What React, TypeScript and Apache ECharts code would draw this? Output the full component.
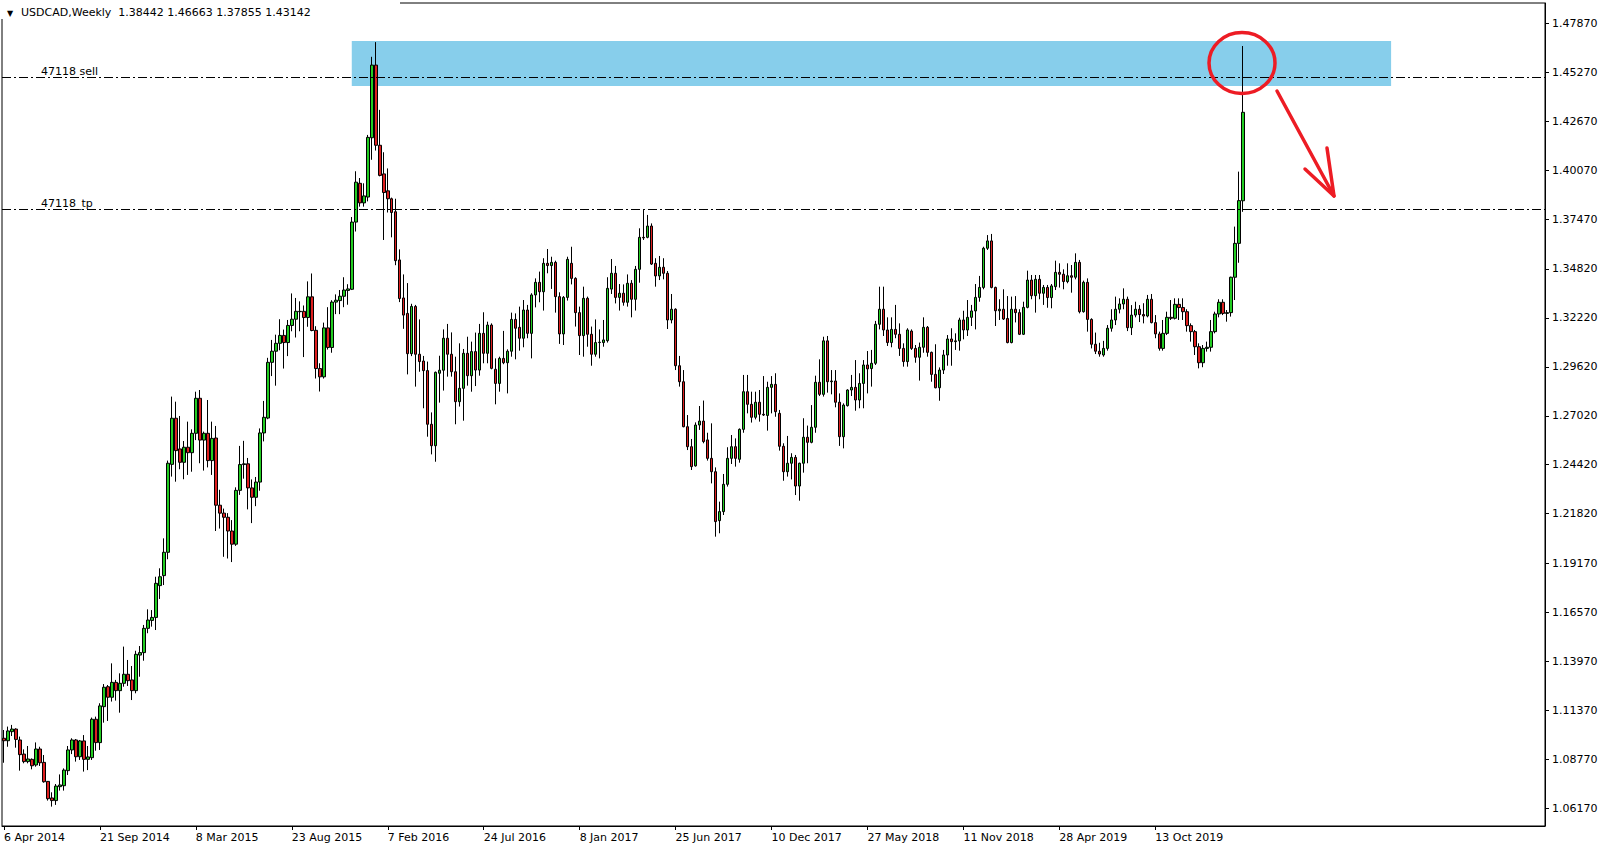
import React, { useEffect, useRef } from "react";
import * as echarts from "echarts";

const symbolTitle = "USDCAD,Weekly";
const xTickLabels = ["6 Apr 2014", "21 Sep 2014", "8 Mar 2015", "23 Aug 2015", "7 Feb 2016", "24 Jul 2016", "8 Jan 2017", "25 Jun 2017", "10 Dec 2017", "27 May 2018", "11 Nov 2018", "28 Apr 2019", "13 Oct 2019"];
const weeksPerLabel = 24;
const totalSlots = 386;
const yTicks = [1.0617, 1.0877, 1.1137, 1.1397, 1.1657, 1.1917, 1.2182, 1.2442, 1.2702, 1.2962, 1.3222, 1.3482, 1.3747, 1.4007, 1.4267, 1.4527, 1.4787];
const yMin = 1.0523;
const yMax = 1.48948;

const opens = [
  1.0989, 1.0976, 1.1024, 1.1038, 1.0980, 1.0905, 1.0865, 1.0877, 1.0847, 1.0932,
  1.0861, 1.0760, 1.0672, 1.0658, 1.0732, 1.0737, 1.0817, 1.0927, 1.0980, 1.0891,
  1.0975, 1.0877, 1.0886, 1.1090, 1.0966, 1.1157, 1.1263, 1.1207, 1.1286, 1.1242,
  1.1281, 1.1329, 1.1299, 1.1242, 1.1431, 1.1444, 1.1573, 1.1615, 1.1631, 1.1800,
  1.1853, 1.1977, 1.2444, 1.2689, 1.2526, 1.2455, 1.2535, 1.2506, 1.2609, 1.2795,
  1.2573, 1.2609, 1.2464, 1.2584, 1.2227, 1.2185, 1.2163, 1.2090, 1.2020, 1.2306,
  1.2443, 1.2447, 1.2319, 1.2269, 1.2350, 1.2611, 1.2690, 1.2986, 1.3045, 1.3087,
  1.3129, 1.3091, 1.3182, 1.3215, 1.3257, 1.3257, 1.3224, 1.3334, 1.3156, 1.2953,
  1.2909, 1.3169, 1.3065, 1.3306, 1.3314, 1.3337, 1.3368, 1.3374, 1.3731, 1.3937,
  1.3833, 1.3864, 1.4179, 1.4565, 1.4139, 1.3987, 1.3897, 1.3855, 1.3786, 1.3530,
  1.3328, 1.3246, 1.3032, 1.3283, 1.3029, 1.2993, 1.2942, 1.2657, 1.2543, 1.2928,
  1.2944, 1.3114, 1.3029, 1.2936, 1.2777, 1.2848, 1.3034, 1.2915, 1.3043, 1.2945,
  1.3140, 1.3034, 1.3184, 1.2949, 1.2874, 1.3007, 1.2984, 1.3045, 1.3214, 1.3172,
  1.3114, 1.3264, 1.3140, 1.3344, 1.3411, 1.3361, 1.3512, 1.3500, 1.3517, 1.3335,
  1.3137, 1.3331, 1.3512, 1.3432, 1.3250, 1.3128, 1.3326, 1.3135, 1.3029, 1.3091,
  1.3091, 1.3101, 1.3375, 1.3459, 1.3331, 1.3353, 1.3305, 1.3406, 1.3321, 1.3480,
  1.3650, 1.3650, 1.3710, 1.3512, 1.3445, 1.3491, 1.3459, 1.3211, 1.3268, 1.2968,
  1.2883, 1.2644, 1.2538, 1.2436, 1.2653, 1.2674, 1.2574, 1.2476, 1.2405, 1.2145,
  1.2193, 1.2338, 1.2476, 1.2538, 1.2471, 1.2630, 1.2830, 1.2763, 1.2694, 1.2774,
  1.2710, 1.2704, 1.2853, 1.2869, 1.2715, 1.2540, 1.2405, 1.2450, 1.2481, 1.2329,
  1.2450, 1.2588, 1.2561, 1.2641, 1.2880, 1.2816, 1.3100, 1.2883, 1.2887, 1.2774,
  1.2591, 1.2756, 1.2839, 1.2853, 1.2786, 1.2874, 1.2972, 1.2953, 1.2981, 1.3188,
  1.3268, 1.3158, 1.3091, 1.3161, 1.3135, 1.3060, 1.2990, 1.3152, 1.3060, 1.3013,
  1.3066, 1.3172, 1.3039, 1.2922, 1.2851, 1.2945, 1.3025, 1.3110, 1.3096, 1.3100,
  1.3211, 1.3158, 1.3225, 1.3259, 1.3331, 1.3384, 1.3592, 1.3631, 1.3384, 1.3260,
  1.3268, 1.3219, 1.3091, 1.3268, 1.3250, 1.3135, 1.3278, 1.3423, 1.3340, 1.3427,
  1.3353, 1.3384, 1.3330, 1.3388, 1.3464, 1.3454, 1.3415, 1.3446, 1.3438, 1.3517,
  1.3255, 1.3411, 1.3214, 1.3082, 1.3045, 1.3025, 1.3060, 1.3167, 1.3211, 1.3268,
  1.3296, 1.3321, 1.3170, 1.3237, 1.3268, 1.3240, 1.3232, 1.3321, 1.3197, 1.3137,
  1.3060, 1.3140, 1.3225, 1.3220, 1.3294, 1.3277, 1.3255, 1.3181, 1.3149, 1.3069,
  1.2984, 1.3060, 1.3066, 1.3149, 1.3243, 1.3305, 1.3246, 1.3250, 1.3438, 1.3618,
  1.38442
];
const highs = [
  1.1033, 1.1051, 1.1060, 1.1042, 1.0998, 1.0930, 1.0948, 1.0882, 1.0967, 1.0944,
  1.0900, 1.0762, 1.0702, 1.0746, 1.0797, 1.0829, 1.0948, 1.0989, 1.0985, 1.0980,
  1.1006, 1.0948, 1.1099, 1.1104, 1.1175, 1.1277, 1.1272, 1.1387, 1.1299, 1.1334,
  1.1476, 1.1405, 1.1373, 1.1454, 1.1479, 1.1591, 1.1674, 1.1670, 1.1847, 1.1892,
  1.2051, 1.2464, 1.2804, 1.2777, 1.2701, 1.2568, 1.2671, 1.2630, 1.2830, 1.2839,
  1.2618, 1.2786, 1.2671, 1.2648, 1.2309, 1.2209, 1.2185, 1.2148, 1.2322, 1.2542,
  1.2569, 1.2478, 1.2364, 1.2377, 1.2635, 1.2781, 1.3010, 1.3105, 1.3133, 1.3215,
  1.3160, 1.3211, 1.3352, 1.3328, 1.3310, 1.3288, 1.3416, 1.3458, 1.3178, 1.2981,
  1.3197, 1.3279, 1.3316, 1.3347, 1.3370, 1.3438, 1.3401, 1.3758, 1.4001, 1.3965,
  1.3937, 1.4194, 1.4609, 1.4687, 1.4327, 1.4102, 1.4016, 1.3861, 1.3855, 1.3586,
  1.3453, 1.3407, 1.3297, 1.3291, 1.3214, 1.3020, 1.2990, 1.2720, 1.2937, 1.3021,
  1.3161, 1.3190, 1.3145, 1.3016, 1.3087, 1.3057, 1.3122, 1.3096, 1.3144, 1.3190,
  1.3252, 1.3202, 1.3193, 1.3007, 1.3016, 1.3153, 1.3055, 1.3250, 1.3246, 1.3282,
  1.3317, 1.3291, 1.3353, 1.3432, 1.3468, 1.3539, 1.3588, 1.3547, 1.3526, 1.3358,
  1.3338, 1.3547, 1.3600, 1.3438, 1.3282, 1.3388, 1.3335, 1.3176, 1.3214, 1.3161,
  1.3211, 1.3438, 1.3535, 1.3498, 1.3402, 1.3400, 1.3453, 1.3423, 1.3498, 1.3698,
  1.3795, 1.3769, 1.3724, 1.3539, 1.3551, 1.3539, 1.3471, 1.3349, 1.3273, 1.3020,
  1.2945, 1.2706, 1.2579, 1.2667, 1.2754, 1.2783, 1.2612, 1.2662, 1.2428, 1.2246,
  1.2393, 1.2535, 1.2600, 1.2582, 1.2635, 1.2919, 1.2919, 1.2830, 1.2830, 1.2839,
  1.2913, 1.2883, 1.2913, 1.2928, 1.2733, 1.2556, 1.2595, 1.2503, 1.2494, 1.2453,
  1.2689, 1.2650, 1.2759, 1.2915, 1.3002, 1.3122, 1.3126, 1.2945, 1.2945, 1.2821,
  1.2768, 1.2843, 1.2919, 1.2998, 1.2928, 1.2998, 1.3046, 1.3052, 1.3206, 1.3388,
  1.3388, 1.3225, 1.3225, 1.3291, 1.3193, 1.3087, 1.3167, 1.3161, 1.3078, 1.3091,
  1.3225, 1.3179, 1.3043, 1.3082, 1.2959, 1.3052, 1.3131, 1.3167, 1.3140, 1.3223,
  1.3260, 1.3317, 1.3291, 1.3402, 1.3445, 1.3600, 1.3662, 1.3668, 1.3388, 1.3321,
  1.3374, 1.3338, 1.3335, 1.3338, 1.3268, 1.3308, 1.3473, 1.3450, 1.3450, 1.3450,
  1.3397, 1.3397, 1.3402, 1.3526, 1.3512, 1.3480, 1.3512, 1.3503, 1.3565, 1.3530,
  1.3420, 1.3432, 1.3220, 1.3144, 1.3090, 1.3100, 1.3184, 1.3268, 1.3335, 1.3326,
  1.3379, 1.3335, 1.3290, 1.3308, 1.3290, 1.3300, 1.3344, 1.3349, 1.3237, 1.3149,
  1.3211, 1.3255, 1.3317, 1.3326, 1.3326, 1.3326, 1.3268, 1.3193, 1.3158, 1.3087,
  1.3078, 1.3096, 1.3211, 1.3255, 1.3321, 1.3321, 1.3264, 1.3441, 1.3707, 1.3999,
  1.46663
];
const lows = [
  1.0859, 1.0944, 1.1001, 1.0939, 1.0817, 1.0856, 1.0856, 1.0824, 1.0838, 1.0842,
  1.0753, 1.0658, 1.0626, 1.0635, 1.0711, 1.0711, 1.0794, 1.0905, 1.0865, 1.0874,
  1.0812, 1.0820, 1.0874, 1.0923, 1.0927, 1.1072, 1.1081, 1.1184, 1.1189, 1.1125,
  1.1263, 1.1267, 1.1192, 1.1228, 1.1316, 1.1401, 1.1547, 1.1582, 1.1564, 1.1729,
  1.1803, 1.1940, 1.2379, 1.2352, 1.2418, 1.2365, 1.2388, 1.2405, 1.2573, 1.2450,
  1.2411, 1.2428, 1.2388, 1.2090, 1.2103, 1.1953, 1.1944, 1.1925, 1.2011, 1.2282,
  1.2368, 1.2205, 1.2132, 1.2222, 1.2304, 1.2566, 1.2684, 1.2913, 1.2862, 1.3050,
  1.2953, 1.3019, 1.3151, 1.3118, 1.3151, 1.3014, 1.3175, 1.3151, 1.2900, 1.2831,
  1.2900, 1.3054, 1.3037, 1.3242, 1.3242, 1.3279, 1.3292, 1.3370, 1.3681, 1.3813,
  1.3813, 1.3841, 1.4062, 1.4111, 1.3974, 1.3636, 1.3782, 1.3650, 1.3502, 1.3306,
  1.3164, 1.2922, 1.3019, 1.2857, 1.2936, 1.2742, 1.2591, 1.2497, 1.2458, 1.2772,
  1.2836, 1.2910, 1.2910, 1.2657, 1.2751, 1.2676, 1.2862, 1.2830, 1.2860, 1.2915,
  1.2981, 1.2981, 1.2949, 1.2763, 1.2830, 1.2976, 1.2821, 1.3016, 1.3002, 1.3048,
  1.3066, 1.3114, 1.3007, 1.3278, 1.3305, 1.3261, 1.3459, 1.3376, 1.3250, 1.3084,
  1.3078, 1.3314, 1.3400, 1.3176, 1.3025, 1.3016, 1.3069, 1.2968, 1.3016, 1.3007,
  1.3069, 1.3091, 1.3349, 1.3299, 1.3261, 1.3287, 1.3282, 1.3225, 1.3261, 1.3409,
  1.3636, 1.3645, 1.3503, 1.3388, 1.3423, 1.3427, 1.3163, 1.3193, 1.2945, 1.2857,
  1.2641, 1.2520, 1.2414, 1.2432, 1.2627, 1.2556, 1.2464, 1.2343, 1.2060, 1.2078,
  1.2175, 1.2326, 1.2446, 1.2432, 1.2453, 1.2612, 1.2715, 1.2666, 1.2683, 1.2671,
  1.2701, 1.2623, 1.2715, 1.2697, 1.2517, 1.2357, 1.2379, 1.2364, 1.2281, 1.2251,
  1.2400, 1.2450, 1.2556, 1.2612, 1.2807, 1.2804, 1.2825, 1.2816, 1.2747, 1.2542,
  1.2529, 1.2751, 1.2807, 1.2729, 1.2742, 1.2742, 1.2821, 1.2857, 1.2972, 1.3161,
  1.3126, 1.3073, 1.3066, 1.3114, 1.3020, 1.2963, 1.2963, 1.3052, 1.2984, 1.2889,
  1.3037, 1.3016, 1.2883, 1.2848, 1.2782, 1.2924, 1.2968, 1.2968, 1.3052, 1.3048,
  1.3108, 1.3126, 1.3179, 1.3161, 1.3308, 1.3374, 1.3583, 1.3379, 1.3179, 1.3211,
  1.3211, 1.3087, 1.3087, 1.3198, 1.3131, 1.3131, 1.3273, 1.3321, 1.3250, 1.3321,
  1.3291, 1.3276, 1.3273, 1.3370, 1.3383, 1.3374, 1.3406, 1.3356, 1.3427, 1.3246,
  1.3250, 1.3149, 1.3060, 1.3030, 1.3016, 1.3016, 1.3048, 1.3149, 1.3184, 1.3246,
  1.3268, 1.3152, 1.3131, 1.3225, 1.3200, 1.3193, 1.3225, 1.3193, 1.3114, 1.3048,
  1.3048, 1.3131, 1.3211, 1.3214, 1.3211, 1.3211, 1.3149, 1.3096, 1.3025, 1.2954,
  1.2960, 1.3043, 1.3043, 1.3140, 1.3225, 1.3237, 1.3202, 1.3229, 1.3317, 1.3515,
  1.37855
];
const closes = [
  1.0976, 1.1028, 1.1038, 1.0983, 1.0902, 1.0865, 1.0879, 1.0843, 1.0932, 1.0859,
  1.0758, 1.0668, 1.0658, 1.0735, 1.0741, 1.0820, 1.0927, 1.0980, 1.0891, 1.0975,
  1.0877, 1.0890, 1.1090, 1.0966, 1.1161, 1.1260, 1.1207, 1.1286, 1.1242, 1.1281,
  1.1329, 1.1295, 1.1242, 1.1435, 1.1444, 1.1573, 1.1617, 1.1631, 1.1812, 1.1847,
  1.1977, 1.2450, 1.2689, 1.2517, 1.2455, 1.2535, 1.2506, 1.2609, 1.2795, 1.2573,
  1.2609, 1.2464, 1.2582, 1.2227, 1.2185, 1.2163, 1.2090, 1.2020, 1.2306, 1.2443,
  1.2447, 1.2319, 1.2269, 1.2350, 1.2611, 1.2694, 1.2986, 1.3045, 1.3087, 1.3129,
  1.3091, 1.3182, 1.3215, 1.3257, 1.3255, 1.3224, 1.3334, 1.3155, 1.2953, 1.2909,
  1.3169, 1.3065, 1.3306, 1.3316, 1.3337, 1.3370, 1.3376, 1.3731, 1.3943, 1.3833,
  1.3870, 1.4181, 1.4565, 1.4139, 1.3979, 1.3888, 1.3855, 1.3782, 1.3526, 1.3325,
  1.3237, 1.3032, 1.3283, 1.3029, 1.2990, 1.2942, 1.2657, 1.2543, 1.2933, 1.2944,
  1.3114, 1.3029, 1.2936, 1.2777, 1.2848, 1.3034, 1.2915, 1.3043, 1.2945, 1.3140,
  1.3034, 1.3184, 1.2954, 1.2874, 1.3007, 1.2984, 1.3045, 1.3214, 1.3167, 1.3114,
  1.3264, 1.3140, 1.3344, 1.3411, 1.3361, 1.3512, 1.3500, 1.3517, 1.3335, 1.3137,
  1.3331, 1.3533, 1.3432, 1.3250, 1.3128, 1.3326, 1.3135, 1.3029, 1.3091, 1.3093,
  1.3105, 1.3379, 1.3459, 1.3331, 1.3353, 1.3305, 1.3406, 1.3321, 1.3480, 1.3650,
  1.3647, 1.3710, 1.3508, 1.3445, 1.3491, 1.3459, 1.3211, 1.3268, 1.2968, 1.2883,
  1.2644, 1.2538, 1.2432, 1.2653, 1.2674, 1.2565, 1.2476, 1.2405, 1.2140, 1.2193,
  1.2338, 1.2476, 1.2538, 1.2476, 1.2630, 1.2830, 1.2763, 1.2694, 1.2774, 1.2710,
  1.2706, 1.2853, 1.2869, 1.2724, 1.2540, 1.2405, 1.2450, 1.2481, 1.2329, 1.2450,
  1.2588, 1.2561, 1.2641, 1.2880, 1.2816, 1.3100, 1.2883, 1.2887, 1.2774, 1.2591,
  1.2759, 1.2839, 1.2853, 1.2786, 1.2874, 1.2972, 1.2951, 1.2981, 1.3188, 1.3268,
  1.3158, 1.3091, 1.3161, 1.3135, 1.3060, 1.2990, 1.3158, 1.3060, 1.3013, 1.3066,
  1.3172, 1.3039, 1.2922, 1.2851, 1.2945, 1.3025, 1.3110, 1.3096, 1.3100, 1.3211,
  1.3158, 1.3225, 1.3259, 1.3331, 1.3384, 1.3592, 1.3631, 1.3384, 1.3260, 1.3268,
  1.3216, 1.3091, 1.3268, 1.3250, 1.3135, 1.3278, 1.3423, 1.3340, 1.3427, 1.3353,
  1.3384, 1.3330, 1.3392, 1.3464, 1.3454, 1.3415, 1.3446, 1.3438, 1.3517, 1.3255,
  1.3411, 1.3214, 1.3082, 1.3045, 1.3030, 1.3060, 1.3167, 1.3211, 1.3268, 1.3296,
  1.3321, 1.3170, 1.3237, 1.3268, 1.3240, 1.3232, 1.3321, 1.3197, 1.3137, 1.3060,
  1.3140, 1.3225, 1.3220, 1.3294, 1.3277, 1.3255, 1.3181, 1.3149, 1.3069, 1.2984,
  1.3060, 1.3066, 1.3149, 1.3243, 1.3305, 1.3246, 1.3250, 1.3438, 1.3618, 1.3845,
  1.43142
];

const sellLevel = 1.4497;
const tpLevel = 1.3818;
const sellLabel = "47118 sell";
const tpLabel = "47118_tp";
const zoneStartWeek = 87;
const zoneEndWeek = 347;
const zoneTop = 1.4693;
const zoneBottom = 1.4454;

const bullColor = "#22cc22";
const bearColor = "#dd1f1f";
const FONT = "DejaVu Sans";

export default function App() {
  const ref = useRef<HTMLDivElement>(null);
  useEffect(() => {
    if (!ref.current) return;
    const chart = echarts.init(ref.current, undefined, { renderer: "svg" });
    const categories = Array.from({ length: totalSlots }, (_, i) => String(i));
    const candles = opens.map((o, i) => [o, closes[i], lows[i], highs[i]]);
    const last = opens.length - 1;
    const lastClose = closes[last];
    const header =
      symbolTitle + "\u00a0\u00a0" +
      [opens[last], highs[last], lows[last], closes[last]].map((v) => v.toFixed(5)).join(" ");
    const showTick = (index: number) =>
      index % weeksPerLabel === 0 && index / weeksPerLabel < xTickLabels.length;
    const hlineLabel = (text: string) => ({
      show: true,
      position: "insideStartTop",
      formatter: text,
      color: "#000",
      fontFamily: FONT,
      fontSize: 11,
      distance: [39, 0],
    });

    chart.setOption({
      animation: false,
      backgroundColor: "#ffffff",
      grid: {
        left: 2,
        right: 64,
        top: 3,
        bottom: 24,
        show: true,
        borderColor: "#000",
        borderWidth: 1,
        backgroundColor: "transparent",
      },
      xAxis: {
        type: "category",
        data: categories,
        boundaryGap: true,
        axisLine: { show: true, lineStyle: { color: "#000", width: 1 } },
        axisTick: {
          show: true,
          alignWithLabel: true,
          interval: (index: number) => showTick(index),
          length: 4,
          lineStyle: { color: "#000" },
        },
        axisLabel: {
          show: true,
          interval: (index: number) => showTick(index),
          formatter: (_v: string, index: number) =>
            showTick(index) ? xTickLabels[index / weeksPerLabel] : "",
          align: "left",
          margin: 6,
          color: "#000",
          fontFamily: FONT,
          fontSize: 11,
        },
        splitLine: { show: false },
      },
      yAxis: {
        type: "value",
        position: "right",
        min: yMin,
        max: yMax,
        scale: true,
        axisLine: { show: true, lineStyle: { color: "#000", width: 1 } },
        axisTick: {
          show: true,
          inside: false,
          length: 4,
          customValues: yTicks,
          lineStyle: { color: "#000" },
        },
        axisLabel: {
          show: true,
          customValues: yTicks,
          formatter: (v: number) => v.toFixed(5),
          margin: 7,
          color: "#000",
          fontFamily: FONT,
          fontSize: 11,
        },
        splitLine: { show: false },
      },
      series: [
        {
          type: "candlestick",
          data: candles,
          barWidth: 3,
          itemStyle: {
            color: bullColor,
            color0: bearColor,
            borderColor: "#000",
            borderColor0: "#000",
            borderColorDoji: "#000",
            borderWidth: 1,
          },
          markArea: {
            silent: true,
            z: 1,
            itemStyle: { color: "#87ceeb", opacity: 1 },
            data: [[
              { xAxis: String(zoneStartWeek), yAxis: zoneTop },
              { xAxis: String(zoneEndWeek), yAxis: zoneBottom },
            ]],
          },
          markLine: {
            silent: true,
            symbol: ["none", "none"],
            animation: false,
            data: [
              {
                yAxis: sellLevel,
                lineStyle: { color: "#000", width: 1, type: [9, 3, 2, 3] },
                label: hlineLabel(sellLabel),
              },
              {
                yAxis: tpLevel,
                lineStyle: { color: "#000", width: 1, type: [9, 3, 2, 3] },
                label: hlineLabel(tpLabel),
              },
              {
                yAxis: lastClose,
                lineStyle: { opacity: 0, width: 0 },
                label: {
                  show: true,
                  position: "end",
                  distance: 2,
                  formatter: lastClose.toFixed(5),
                  color: "#fff",
                  backgroundColor: "#000",
                  padding: [0, 5, 0, 5],
                  lineHeight: 12,
                  fontFamily: FONT,
                  fontSize: 11,
                },
              },
            ],
          },
        },
      ],
      graphic: [
        {
          type: "rect",
          shape: { x: 0, y: 0, width: 400, height: 19 },
          style: { fill: "#fff" },
          z: 50,
        },
        {
          type: "text",
          left: 7,
          top: 9,
          z: 51,
          style: { text: "\u25bc", font: '8px "DejaVu Sans"', fill: "#000" },
        },
        {
          type: "text",
          left: 21,
          top: 7,
          z: 51,
          style: { text: header, font: '11px "DejaVu Sans"', fill: "#000" },
        },
        {
          type: "ellipse",
          shape: { cx: 1242, cy: 63, rx: 33, ry: 30.5 },
          style: { fill: "none", stroke: "#ed1c24", lineWidth: 3.5 },
          z: 100,
        },
        {
          type: "polyline",
          shape: { points: [[1277, 91], [1334, 196]] },
          style: { stroke: "#ed1c24", lineWidth: 3.5, lineCap: "round", fill: "none" },
          z: 100,
        },
        {
          type: "polyline",
          shape: { points: [[1305, 169], [1334, 196], [1327, 148]] },
          style: { stroke: "#ed1c24", lineWidth: 3.5, lineCap: "round", lineJoin: "round", fill: "none" },
          z: 100,
        },
      ],
    });
    return () => chart.dispose();
  }, []);
  return (
    <div
      ref={ref}
      style={{ position: "fixed", left: 0, top: 0, width: "1609px", height: "850px", background: "#fff" }}
    />
  );
}
